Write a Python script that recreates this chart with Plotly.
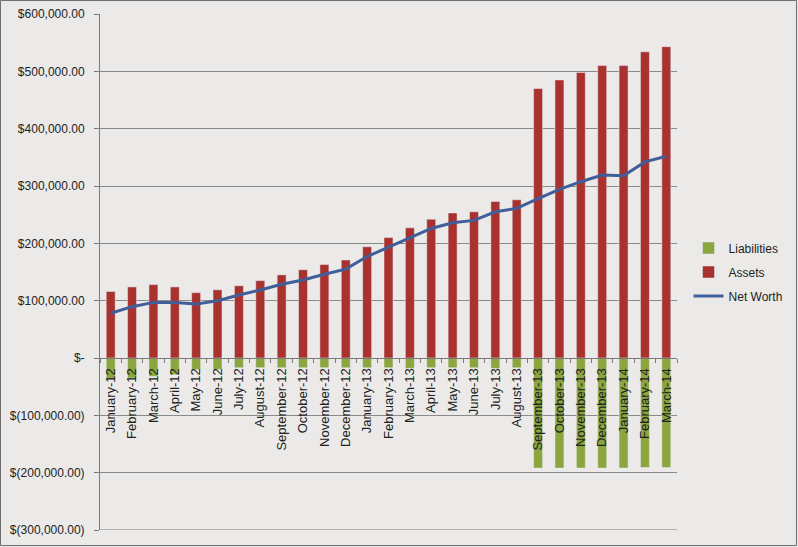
import plotly.graph_objects as go

months = ["January-12", "February-12", "March-12", "April-12", "May-12", "June-12",
          "July-12", "August-12", "September-12", "October-12", "November-12", "December-12",
          "January-13", "February-13", "March-13", "April-13", "May-13", "June-13",
          "July-13", "August-13", "September-13", "October-13", "November-13", "December-13",
          "January-14", "February-14", "March-14"]

assets = [116000, 124000, 128000, 124000, 114000, 119000, 126000, 135000, 145000, 154000,
          163000, 171000, 194000, 210000, 227000, 242000, 253000, 255000, 273000, 276000,
          470000, 485000, 498000, 510000, 510000, 534000, 543000]

liabilities = [-37000, -35000, -32000, -29000, -20000, -20000, -17000, -17000, -17000, -17000,
               -17000, -17000, -17000, -17000, -18000, -17000, -17000, -17000, -18000, -17000,
               -192000, -192000, -192000, -192000, -192000, -191000, -191000]

net_worth = [78000, 89500, 97000, 97000, 94000, 100000, 110000, 118500, 128500, 136000,
             146000, 155000, 177000, 193000, 210000, 226000, 236000, 240000, 255000, 261000,
             278000, 294000, 307500, 319000, 318000, 342000, 352000]

y_tickvals = [-300000, -200000, -100000, 0, 100000, 200000, 300000, 400000, 500000, 600000]
y_ticktext = ["$(300,000.00)", "$(200,000.00)", "$(100,000.00)", "$-", "$100,000.00",
              "$200,000.00", "$300,000.00", "$400,000.00", "$500,000.00", "$600,000.00"]

W, H = 798, 547
ml, mr, mt, mb = 100, 121, 14, 17
ymin, ymax = -300000, 600000

fig = go.Figure()
fig.add_trace(go.Bar(x=months, y=liabilities, name="Liabilities", marker_color="#8BA53F",
                     width=0.42, legendgroup="l"))
fig.add_trace(go.Bar(x=months, y=assets, name="Assets", marker_color="#A9322E",
                     width=0.42, legendgroup="a"))
fig.add_trace(go.Scatter(x=months, y=net_worth, name="Net Worth", mode="lines",
                         line=dict(color="#3F5E9A", width=3), legendgroup="n"))

pw = W - ml - mr
ph = H - mt - mb
fig.add_shape(type="rect", xref="paper", yref="paper",
              x0=-(ml - 0.5) / pw, x1=1 + (mr - 1.5) / pw,
              y0=-(mb - 1.5) / ph, y1=1 + (mt - 0.5) / ph,
              line=dict(color="#6f6f6f", width=1), layer="below")
# bottom gridline at the lower range edge
fig.add_shape(type="line", xref="paper", yref="y", x0=0, x1=1, y0=ymin, y1=ymin,
              line=dict(color="#7a7a7a", width=1), layer="below")

fig.update_layout(
    width=W, height=H,
    margin=dict(l=ml, r=mr, t=mt, b=mb, autoexpand=False),
    paper_bgcolor="#EBEAE8", plot_bgcolor="#EBEAE8",
    barmode="relative",
    font=dict(family="Liberation Sans, Arial, sans-serif", size=12, color="#222222"),
    showlegend=True,
    legend=dict(x=1.02, y=0.5, xanchor="left", yanchor="middle", traceorder="grouped",
                bgcolor="rgba(0,0,0,0)", font=dict(size=12), itemwidth=30,
                tracegroupgap=5),
    xaxis=dict(type="category", range=[-0.5, 26.5], anchor="free",
               position=(0 - ymin) / (ymax - ymin), automargin=False,
               showline=True, linecolor="#7a7a7a", linewidth=1,
               ticks="outside", tickson="boundaries", ticklen=4, tickcolor="#7a7a7a",
               tickangle=-90, showgrid=False, tickfont=dict(size=13),
               ticklabelstandoff=4),
    yaxis=dict(range=[ymin, ymax], tickvals=y_tickvals, ticktext=y_ticktext,
               automargin=False,
               showgrid=True, gridcolor="#8a8a8a", gridwidth=1,
               showline=True, linecolor="#7a7a7a", linewidth=1,
               ticks="outside", ticklen=5, tickcolor="#7a7a7a",
               zeroline=False, tickfont=dict(size=12), ticklabelstandoff=7),
)

fig.write_html("out.html", config={"displayModeBar": False},
               post_script="document.body.style.margin='0';document.body.style.overflow='hidden';")
